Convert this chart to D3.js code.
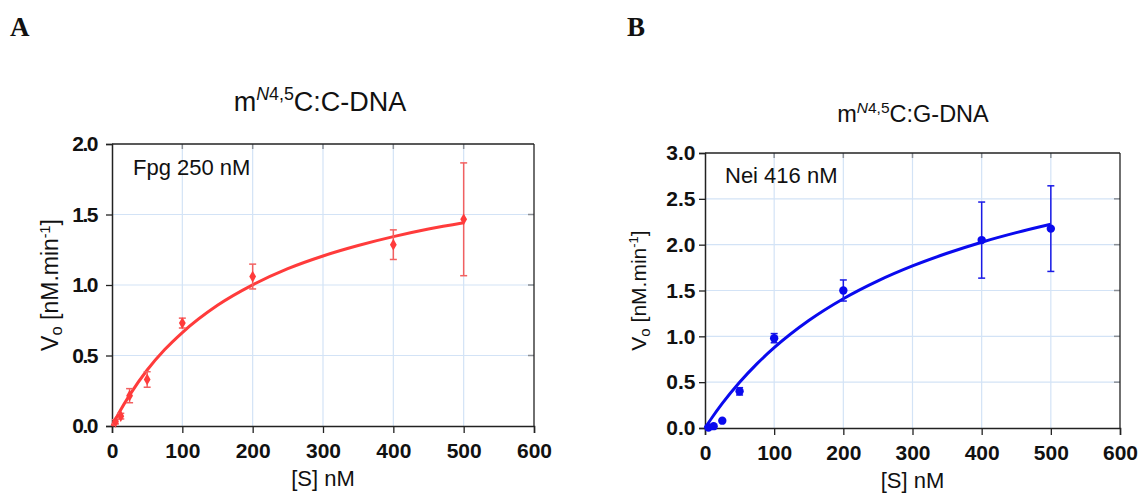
<!DOCTYPE html>
<html>
<head>
<meta charset="utf-8">
<script src="https://cdn.jsdelivr.net/npm/d3@7"></script>
<style>
  html, body { margin: 0; padding: 0; background: #fff; }
  svg { display: block; }
</style>
</head>
<body>
<svg id="chart" width="1139" height="493"></svg>
<script>
// ---------------- DATA ----------------
const xTicks = [0, 100, 200, 300, 400, 500, 600];
const yTicksA = [0.0, 0.5, 1.0, 1.5, 2.0];
const yTicksB = [0.0, 0.5, 1.0, 1.5, 2.0, 2.5, 3.0];

// Panel A: Fpg on m(N4,5)C:C-DNA
const substrateA = [5, 12.5, 25, 50, 100, 200, 400, 500];
const rateA      = [0.03, 0.07, 0.215, 0.33, 0.73, 1.06, 1.286, 1.466];
const errA       = [0.015, 0.02, 0.05, 0.055, 0.035, 0.088, 0.105, 0.40];
// fitted curve
const curveXA = [0, 10, 25, 50, 75, 100, 150, 200, 250, 300, 350, 400, 450, 500];
const curveYA = [0, 0.094, 0.219, 0.397, 0.542, 0.663, 0.856, 1.001, 1.116, 1.206, 1.280, 1.343, 1.397, 1.442];

// Panel B: Nei on m(N4,5)C:G-DNA
const substrateB = [5, 12.5, 25, 50, 100, 200, 400, 500];
const rateB      = [0.005, 0.02, 0.08, 0.40, 0.98, 1.50, 2.05, 2.175];
const errB       = [0.0, 0.0, 0.0, 0.04, 0.05, 0.115, 0.415, 0.467];
const curveXB = [0, 10, 25, 50, 75, 100, 150, 200, 250, 300, 350, 400, 450, 500];
const curveYB = [0, 0.112, 0.268, 0.499, 0.700, 0.876, 1.172, 1.410, 1.605, 1.768, 1.906, 2.027, 2.131, 2.222];

// ---------------- DRAW ----------------
const svg = d3.select("#chart");
svg.append("rect").attr("width", 1139).attr("height", 493).attr("fill", "#fff");

function panel(cfg) {
  const g = svg.append("g");
  const x = d3.scaleLinear().domain([0, 600]).range([cfg.left, cfg.right]);
  const y = d3.scaleLinear().domain([0, cfg.ymax]).range([cfg.bottom, cfg.top]);

  // grid
  g.append("g").selectAll("line").data(cfg.xTicks.slice(1, -1)).join("line")
    .attr("x1", d => x(d)).attr("x2", d => x(d))
    .attr("y1", cfg.top).attr("y2", cfg.bottom)
    .attr("stroke", "#d3e3f6").attr("stroke-width", 1.2);
  g.append("g").selectAll("line").data(cfg.yTicks.slice(1, -1)).join("line")
    .attr("y1", d => y(d)).attr("y2", d => y(d))
    .attr("x1", cfg.left).attr("x2", cfg.right)
    .attr("stroke", "#d3e3f6").attr("stroke-width", 1.2);

  // inner ticks on top and right (gray)
  g.append("g").selectAll("line").data(cfg.xTicks.slice(1, -1)).join("line")
    .attr("x1", d => x(d)).attr("x2", d => x(d))
    .attr("y1", cfg.top).attr("y2", cfg.top + 5)
    .attr("stroke", "#8a8f96").attr("stroke-width", 1.5);
  g.append("g").selectAll("line").data(cfg.yTicks.slice(1, -1)).join("line")
    .attr("y1", d => y(d)).attr("y2", d => y(d))
    .attr("x1", cfg.right - 6).attr("x2", cfg.right)
    .attr("stroke", "#8a8f96").attr("stroke-width", 1.5);

  // frame top/right
  g.append("line").attr("x1", cfg.left).attr("x2", cfg.right)
    .attr("y1", cfg.top).attr("y2", cfg.top).attr("stroke", "#222").attr("stroke-width", 1.3);
  g.append("line").attr("x1", cfg.right).attr("x2", cfg.right)
    .attr("y1", cfg.top).attr("y2", cfg.bottom).attr("stroke", "#222").attr("stroke-width", 1.3);

  // axes
  const xAxis = g.append("g").attr("transform", `translate(0,${cfg.bottom})`)
    .call(d3.axisBottom(x).tickValues(cfg.xTicks).tickFormat(d3.format("d")).tickSize(7).tickPadding(5));
  const yAxis = g.append("g").attr("transform", `translate(${cfg.left},0)`)
    .call(d3.axisLeft(y).tickValues(cfg.yTicks).tickFormat(d3.format(".1f")).tickSize(6).tickPadding(cfg.yPad));
  [xAxis, yAxis].forEach(a => {
    a.select(".domain").attr("stroke", "#222").attr("stroke-width", 1.5);
    a.selectAll(".tick line").attr("stroke", "#222").attr("stroke-width", 1.3);
    a.selectAll(".tick text").attr("fill", "#111")
      .attr("font-family", "'Liberation Sans', Arial, sans-serif")
      .attr("font-weight", "bold").attr("font-size", 21);
  });
  yAxis.selectAll(".tick text").attr("letter-spacing", cfg.yLetter);
  xAxis.selectAll(".tick text").attr("dy", "0.93em");

  // curve
  const pts = cfg.curveX.map((d, i) => [d, cfg.curveY[i]]);
  g.append("path").datum(pts)
    .attr("d", d3.line().x(d => x(d[0])).y(d => y(d[1])).curve(d3.curveMonotoneX))
    .attr("fill", "none").attr("stroke", cfg.color).attr("stroke-width", 3);

  // error bars
  const data = cfg.sx.map((d, i) => ({ s: d, v: cfg.v[i], e: cfg.e[i] }));
  const eb = g.append("g").selectAll("g").data(data.filter(d => d.e > 0)).join("g")
    .attr("stroke", cfg.errColor).attr("stroke-width", 1.5);
  eb.append("line").attr("x1", d => x(d.s)).attr("x2", d => x(d.s))
    .attr("y1", d => y(d.v - d.e)).attr("y2", d => y(d.v + d.e));
  eb.append("line").attr("x1", d => x(d.s) - 3.5).attr("x2", d => x(d.s) + 3.5)
    .attr("y1", d => y(d.v - d.e)).attr("y2", d => y(d.v - d.e));
  eb.append("line").attr("x1", d => x(d.s) - 3.5).attr("x2", d => x(d.s) + 3.5)
    .attr("y1", d => y(d.v + d.e)).attr("y2", d => y(d.v + d.e));

  // markers
  g.append("g").selectAll("path").data(data).join("path")
    .attr("transform", d => `translate(${x(d.s)},${y(d.v)})`)
    .attr("d", d3.symbol().type(cfg.symbol).size(cfg.symSize))
    .attr("fill", cfg.color);

  // annotation
  g.append("text").attr("x", cfg.annX).attr("y", cfg.annY)
    .attr("font-family", "'Liberation Sans', Arial, sans-serif").attr("font-size", 22)
    .attr("fill", "#111").text(cfg.ann);

  // x-axis title
  g.append("text").attr("x", (cfg.left + cfg.right) / 2).attr("y", cfg.xTitleY)
    .attr("text-anchor", "middle")
    .attr("font-family", "'Liberation Sans', Arial, sans-serif").attr("font-size", 22)
    .attr("fill", "#111").text("[S] nM");

  // y-axis title
  const yt = g.append("text")
    .attr("transform", `translate(${cfg.yTitleX},${(cfg.top + cfg.bottom) / 2}) rotate(-90)`)
    .attr("text-anchor", "middle")
    .attr("font-family", "'Liberation Sans', Arial, sans-serif").attr("font-size", cfg.yTitleSize)
    .attr("fill", "#111");
  yt.append("tspan").text("V");
  yt.append("tspan").attr("font-size", cfg.yTitleSize * 0.72).attr("dy", 4).text("o");
  yt.append("tspan").attr("dy", -4).text(" [nM.min");
  yt.append("tspan").attr("font-size", cfg.yTitleSize * 0.62).attr("dy", -8).text("-1");
  yt.append("tspan").attr("dy", 8).text("]");

  // chart title
  const tt = g.append("text").attr("x", cfg.titleX).attr("y", cfg.titleY)
    .attr("text-anchor", "middle")
    .attr("font-family", "'Liberation Sans', Arial, sans-serif").attr("font-size", cfg.titleSize)
    .attr("fill", "#111");
  tt.append("tspan").text("m");
  tt.append("tspan").attr("font-size", cfg.titleSize * 0.66).attr("dy", -cfg.titleSize * 0.4).attr("font-style", "italic").text("N");
  tt.append("tspan").attr("font-size", cfg.titleSize * 0.66).text("4,5");
  tt.append("tspan").attr("dy", cfg.titleSize * 0.4).text("C:" + cfg.partner + "-DNA");

  // panel letter
  g.append("text").attr("x", cfg.letterX).attr("y", 36)
    .attr("font-family", "'Liberation Serif', 'Times New Roman', serif")
    .attr("font-weight", "bold").attr("font-size", 27).attr("fill", "#111")
    .text(cfg.letter);
}

panel({
  left: 112, right: 534, top: 144, bottom: 426, ymax: 2,
  xTicks: xTicks, yTicks: yTicksA, yLetter: -1.5, yPad: 9,
  sx: substrateA, v: rateA, e: errA, curveX: curveXA, curveY: curveYA,
  color: "#ff3b3b", errColor: "#f26060", symbol: d3.symbolDiamond, symSize: 40,
  ann: "Fpg 250 nM", annX: 133, annY: 175,
  xTitleY: 486, yTitleX: 58, yTitleSize: 23,
  titleX: 320, titleY: 111, titleSize: 27, partner: "C",
  letter: "A", letterX: 10
});

panel({
  left: 705, right: 1120, top: 153, bottom: 428, ymax: 3,
  xTicks: xTicks, yTicks: yTicksB, yLetter: 0, yPad: 3.5,
  sx: substrateB, v: rateB, e: errB, curveX: curveXB, curveY: curveYB,
  color: "#0a0aee", errColor: "#1a1ae6", symbol: d3.symbolCircle, symSize: 55,
  ann: "Nei 416 nM", annX: 725, annY: 183,
  xTitleY: 488, yTitleX: 646, yTitleSize: 21,
  titleX: 913, titleY: 122, titleSize: 23.5, partner: "G",
  letter: "B", letterX: 627
});
</script>
</body>
</html>
